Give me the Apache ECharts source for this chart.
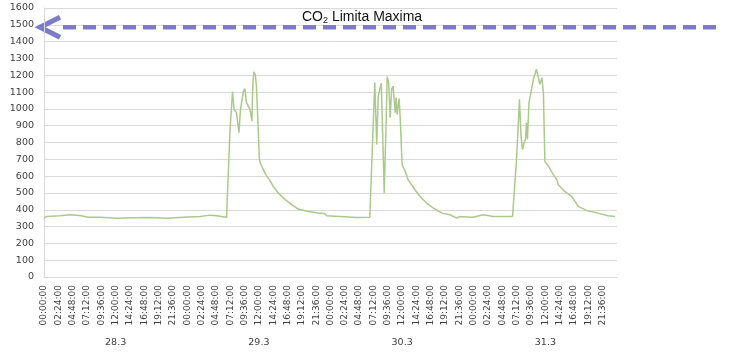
<!DOCTYPE html>
<html>
<head>
<meta charset="utf-8">
<script src="https://cdn.jsdelivr.net/npm/echarts@6/dist/echarts.min.js"></script>
<style>
  html, body { margin: 0; padding: 0; background: #fff; }
  #chart { width: 734px; height: 353px; }
</style>
</head>
<body>
<div id="chart"></div>
<script>
// minutes since 28.3 00:00
const minutes = [
  0, 25, 160, 260, 360, 445, 565, 730, 900, 1065, 1235, 1400, 1570, 1670, 1735, 1835,
  1840, 1870, 1895, 1910, 1935, 1960, 1975, 2005, 2020, 2035, 2055, 2070, 2090, 2100,
  2110, 2125, 2135, 2150, 2165, 2180, 2205, 2230, 2245, 2265, 2305, 2355, 2425, 2490,
  2555, 2575, 2655, 2675, 2755, 2775, 2825, 2840, 2975, 3145, 3275,
  3285, 3325, 3345, 3360, 3375, 3390, 3405, 3420, 3440, 3450, 3465, 3480, 3495, 3510,
  3530, 3540, 3550, 3570, 3580, 3600, 3630, 3660, 3695, 3730, 3780, 3845, 3915, 4000,
  4080, 4150, 4180, 4280, 4315, 4415, 4515, 4710,
  4720, 4750, 4780, 4795, 4810, 4825, 4840, 4850, 4860, 4875, 4895, 4910, 4920, 4935,
  4950, 4970, 4985, 5005, 5020, 5035, 5070, 5120, 5155, 5170, 5235, 5255, 5305, 5370,
  5455, 5570, 5670, 5740
];
const co2Values = [
  350, 360, 364, 370, 366, 356, 356, 350, 352, 354, 350, 356, 360, 368, 364, 356,
  360, 877, 1103, 997, 977, 858, 997, 1106, 1120, 1037, 1047, 997, 927, 1156,
  1220, 1200, 1136, 937, 698, 669, 639, 609, 619, 579, 539, 500, 460, 430,
  404, 400, 390, 388, 380, 378, 376, 364, 360, 354, 356,
  360, 1156, 788, 1076, 1116, 1152, 838, 500, 937, 1192, 1156, 947, 1116, 1136,
  977, 1067, 967, 1061, 957, 669, 629, 579, 549, 519, 479, 440, 410, 380,
  370, 350, 360, 356, 356, 370, 360, 360,
  360, 698, 1057, 838, 758, 798, 818, 918, 818, 1037, 1097, 1146, 1176, 1206,
  1236, 1186, 1146, 1186, 1097, 688, 659, 609, 579, 549, 509, 519, 479, 420,
  396, 380, 364, 360
];
const dayLabels = ['28.3', '29.3', '30.3', '31.3'];
const limitValue = 1485;
const limitTitle = '{a|CO}{b|2}{a| Limita Maxima}';

const lineColor = '#abc98b';
const arrowColor = '#7b7bc9';
const labelColor = '#404040';
const gridColor = '#d9d9d9';

function pad (n) {
  return (n < 10 ? '0' : '') + n;
}

const seriesData = minutes.map((m, i) => [m, co2Values[i]]);

const chart = echarts.init(document.getElementById('chart'));
const option = {
  animation: false,
  title: {
    text: limitTitle,
    left: 297,
    top: 4,
    textStyle: {
      fontWeight: 'normal',
      rich: {
        a: { fontFamily: 'Liberation Sans', fontSize: 14, fontWeight: 'normal', color: '#111' },
        b: { fontFamily: 'Liberation Sans', fontSize: 9, fontWeight: 'normal', color: '#111', padding: [7, 0, 0, 0] }
      }
    }
  },
  grid: { left: 44, right: 117, top: 8, bottom: 76 },
  xAxis: [
    {
      type: 'value',
      min: 0,
      max: 5760,
      interval: 144,
      axisLine: { show: true, lineStyle: { color: gridColor } },
      axisTick: { show: false },
      splitLine: { show: false },
      axisLabel: {
        rotate: 90,
        margin: 8,
        showMaxLabel: false,
        color: labelColor,
        fontFamily: 'DejaVu Sans',
        fontSize: 9,
        formatter: function (v) {
          const m = v % 1440;
          return pad(Math.floor(m / 60)) + ':' + pad(m % 60) + ':00';
        }
      }
    },
    {
      type: 'category',
      position: 'bottom',
      offset: 53,
      data: dayLabels,
      axisLine: { show: false },
      axisTick: { show: false },
      axisLabel: { color: labelColor, fontFamily: 'DejaVu Sans', fontSize: 9.5, margin: 8 }
    }
  ],
  yAxis: {
    type: 'value',
    min: 0,
    max: 1600,
    interval: 100,
    axisLine: { show: true, lineStyle: { color: gridColor } },
    axisTick: { show: false },
    splitLine: { lineStyle: { color: gridColor, width: 1 } },
    axisLabel: {
      color: labelColor,
      fontFamily: 'DejaVu Sans',
      fontSize: 9.5,
      margin: 10,
      formatter: function (v) { return String(v); }
    }
  },
  series: [
    {
      type: 'line',
      xAxisIndex: 0,
      data: seriesData,
      showSymbol: false,
      lineStyle: { color: lineColor, width: 1.5 }
    }
  ]
};
chart.setOption(option);

// limit arrow, placed on the value axis
const y = chart.convertToPixel({ yAxisIndex: 0 }, limitValue);
const x0 = chart.convertToPixel({ xAxisIndex: 0 }, 0);
chart.setOption({
  graphic: [
    {
      type: 'line',
      shape: { x1: x0 + 19, y1: y, x2: 720, y2: y },
      style: { stroke: arrowColor, lineWidth: 4.5, lineDash: [13, 7] }
    },
    {
      type: 'polyline',
      shape: { points: [[x0 + 16, y - 10], [x0 - 4, y], [x0 + 16, y + 10]] },
      style: { stroke: arrowColor, lineWidth: 5, fill: null, lineJoin: 'miter' }
    }
  ]
});
</script>
</body>
</html>
